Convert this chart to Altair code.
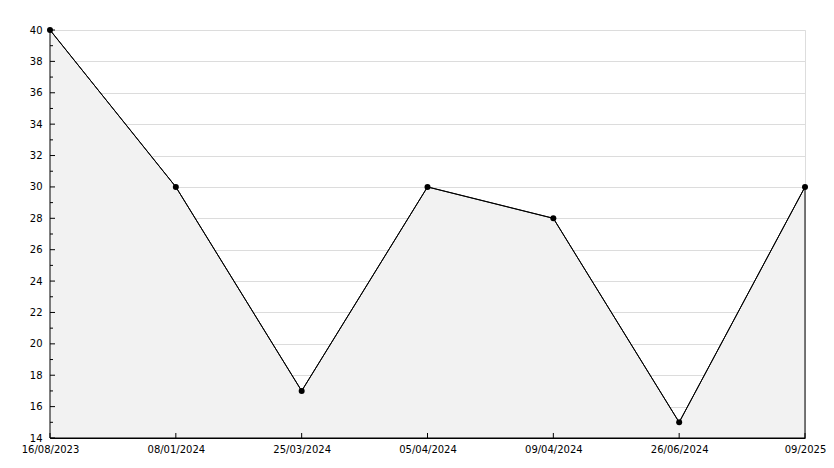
import altair as alt
import pandas as pd

dates = ["16/08/2023", "08/01/2024", "25/03/2024", "05/04/2024", "09/04/2024", "26/06/2024", "09/2025"]
values = [40, 30, 17, 30, 28, 15, 30]
major_ticks = list(range(14, 41, 2))
minor_ticks = list(range(15, 40, 2))

df = pd.DataFrame({"date": dates, "value": values})
df_major = pd.DataFrame({"v": major_ticks})
df_minor = pd.DataFrame({"v": minor_ticks})

FONT = "DejaVu Sans"

xenc = alt.X(
    "date:N",
    sort=dates,
    scale=alt.Scale(type="point", padding=0),
    axis=alt.Axis(
        title=None, labelAngle=0, ticks=False, domainColor="black",
        labelFont=FONT, labelFontSize=10, labelFontWeight="normal", labelColor="black",
        labelPadding=6, labelOverlap=False, labelFlush=False, zindex=0,
    ),
)
yscale = alt.Scale(domain=[14, 40], nice=False, zero=False)
yaxis = alt.Axis(
    title=None, values=major_ticks, grid=True, gridColor="#dcdcdc",
    ticks=False, domainColor="black", labelFont=FONT, labelFontSize=10,
    labelFontWeight="normal", labelColor="black", labelPadding=8, labelOverlap=False,
    labelFlush=False, zindex=0,
)
yenc = alt.Y("value:Q", scale=yscale, axis=yaxis)

base = alt.Chart(df)

area = base.mark_area(color="#f2f2f2", stroke="black", strokeWidth=1, opacity=1).encode(
    x=xenc, y=yenc, y2=alt.datum(14)
)
line = base.mark_line(color="black", strokeWidth=1).encode(x=xenc, y=yenc)
pts = base.mark_point(filled=True, color="black", size=36, opacity=1, shape="circle").encode(
    x=xenc, y=yenc
)

ymaj = alt.Chart(df_major).mark_rule(color="black", strokeWidth=1).encode(
    y=alt.Y("v:Q", scale=yscale, axis=yaxis), x=alt.value(0), x2=alt.value(5)
)
ymin = alt.Chart(df_minor).mark_rule(color="black", strokeWidth=1).encode(
    y=alt.Y("v:Q", scale=yscale, axis=yaxis), x=alt.value(0), x2=alt.value(3)
)
xt = base.mark_rule(color="black", strokeWidth=1).encode(
    x=xenc, y=alt.value(408), y2=alt.value(403)
)

chart = alt.layer(area, line, ymaj, ymin, xt, pts).properties(
    width=755,
    height=408,
    autosize=alt.AutoSizeParams(type="none"),
    padding={"left": 42, "top": 22, "right": 21, "bottom": 20},
).configure_view(stroke=None).configure(background="white")

chart.save("out.html", embed_options={"renderer": "svg", "actions": False})
